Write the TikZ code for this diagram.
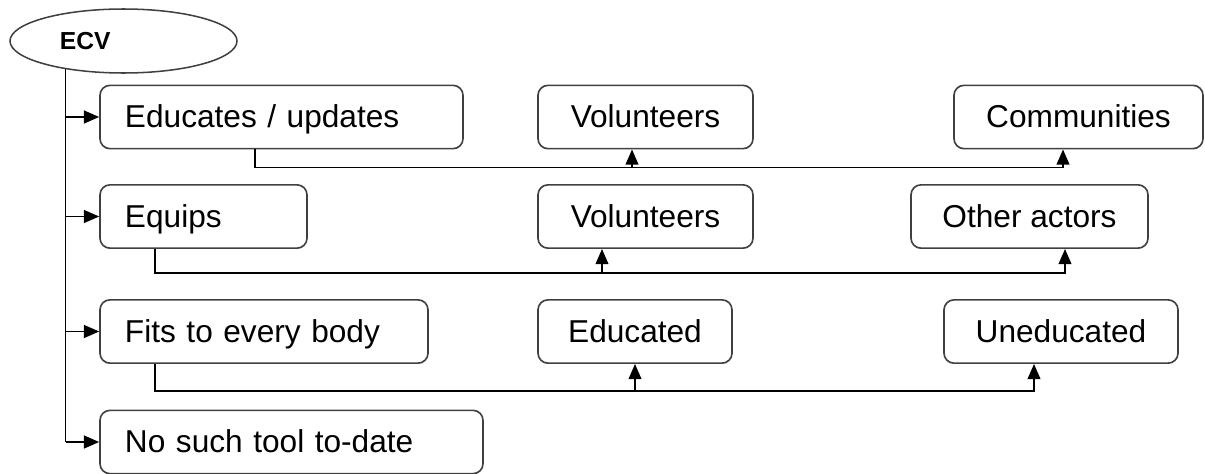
\documentclass[tikz,border=0pt]{standalone}
\usepackage{fontspec}
\setmainfont{Liberation Sans}
\usetikzlibrary{shapes.geometric, arrows.meta, calc}

\begin{document}
\begin{tikzpicture}[
        x=0.03cm, y=-0.03cm,
        line width=1.3pt,
        arr/.style={-{Triangle[length=13pt, width=11pt]}},
        box/.style={draw=black!75, line width=1.4pt, rounded corners=0.3cm, minimum height=1.9cm,
            text height=0.63cm, text depth=0cm, font=\fontsize{27}{32}\selectfont},
        lbox/.style={box, text width=#1, align=left, inner xsep=0.75cm}
        ]
    \useasboundingbox (0,0) rectangle (1205,473);

    % Define the root node
    \node[draw=black!75, ellipse, minimum width=6.81cm, minimum height=1.92cm, text width=3.81cm,
        align=left, font=\fontsize{21}{25}\selectfont\bfseries] (ecv) at (123.5,41) {ECV};

    % Define activity nodes
    \node[lbox=9.39cm] (edu) at (281.5,117) {Educates / updates};
    \node[lbox=4.71cm] (equips) at (203.5,216.5) {Equips};
    \node[lbox=8.34cm] (fits) at (264,331.5) {Fits to every body};
    \node[lbox=9.99cm] (nosuch) at (291.5,442) {No such tool to-date};

    % Define target nodes
    \node[box, minimum width=6.45cm] (vol1) at (645.5,117) {Volunteers};
    \node[box, minimum width=7.47cm] (comm) at (1078.5,117) {Communities};
    \node[box, minimum width=6.45cm] (vol2) at (645.5,216.5) {Volunteers};
    \node[box, minimum width=7.11cm] (actors) at (1029.5,216.5) {Other actors};
    \node[box, minimum width=5.82cm] (educated) at (635,331.5) {Educated};
    \node[box, minimum width=7.02cm] (unedu) at (1061,331.5) {Uneducated};

    % Draw trunk from root to activities
    \draw (ecv.206) -- (ecv.206 |- nosuch.west);
    \draw[arr] (ecv.206 |- edu.west) -- (edu.west);
    \draw[arr] (ecv.206 |- equips.west) -- (equips.west);
    \draw[arr] (ecv.206 |- fits.west) -- (fits.west);
    \draw[arr] (ecv.206 |- nosuch.west) -- (nosuch.west);

    % Draw edges from activities to targets
    \draw[arr] ($(edu.south)+(-26.5,0)$) |- ($(comm.south)+(-15.5,18)$) -- ($(comm.south)+(-15.5,0)$);
    \draw[arr] ($(vol1.south)+(-13.5,18)$) -- ($(vol1.south)+(-13.5,0)$);
    \draw[arr] ($(equips.south)+(-48.5,0)$) |- ($(actors.south)+(35.5,24)$) -- ($(actors.south)+(35.5,0)$);
    \draw[arr] ($(vol2.south)+(-43.5,24)$) -- ($(vol2.south)+(-43.5,0)$);
    \draw[arr] ($(fits.south)+(-109,0)$) |- ($(unedu.south)+(-27,27)$) -- ($(unedu.south)+(-27,0)$);
    \draw[arr] ($(educated.south)+(0,27)$) -- (educated.south);

\end{tikzpicture}
\end{document}
